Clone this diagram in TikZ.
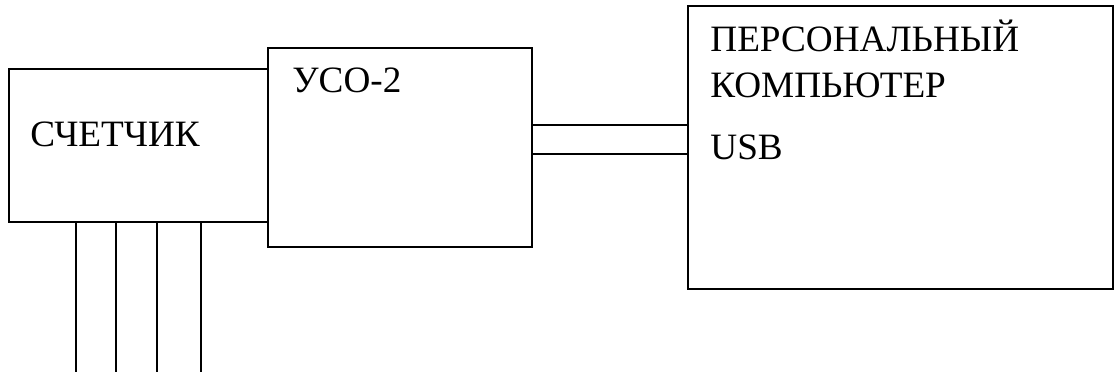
\documentclass[tikz,border=0pt]{standalone}
\usepackage{fontspec}
\setmainfont{Liberation Serif}
\usetikzlibrary{positioning,calc}
\tikzset{
  unit/.style={rectangle, draw=black, line width=0.9pt, inner sep=0pt},
  label/.style={anchor=base west, inner sep=0pt, font=\fontsize{18.6}{22}\selectfont},
  wire/.style={draw, line width=0.9pt}
}
\begin{document}
\begin{tikzpicture}[x=0.5pt, y=-0.5pt]
\useasboundingbox (0,0) rectangle (1116,374);

\node[unit, minimum width=129.5pt, minimum height=76.5pt] (counter) at (138.5,145.5) {};
\node[unit, minimum width=132pt, minimum height=99.5pt, fill=white] (uso) at (400,147.5) {};
\node[unit, minimum width=212.5pt, minimum height=141.5pt] (pc) at (900.5,147.5) {};

\node[label] (countertext) at (30,147) {СЧЕТЧИК};
\node[label] (usotext) at (292,93) {УСО-2};
\node[label] (pctext) at (710,52) {ПЕРСОНАЛЬНЫЙ};
\node[label] (pctext2) at (710,98) {КОМПЬЮТЕР};
\node[label] (usbtext) at (710,160) {USB};

% USB link
\draw[wire] (uso.east |- 0,125) -- (pc.west |- 0,125);
\draw[wire] (uso.east |- 0,154) -- (pc.west |- 0,154);

% counter inputs
\foreach \x [count=\i] in {76,116,157,201} {
  \coordinate (in\i) at (\x,372);
  \draw[wire] (counter.south -| in\i) -- (in\i);
}

\end{tikzpicture}
\end{document}
